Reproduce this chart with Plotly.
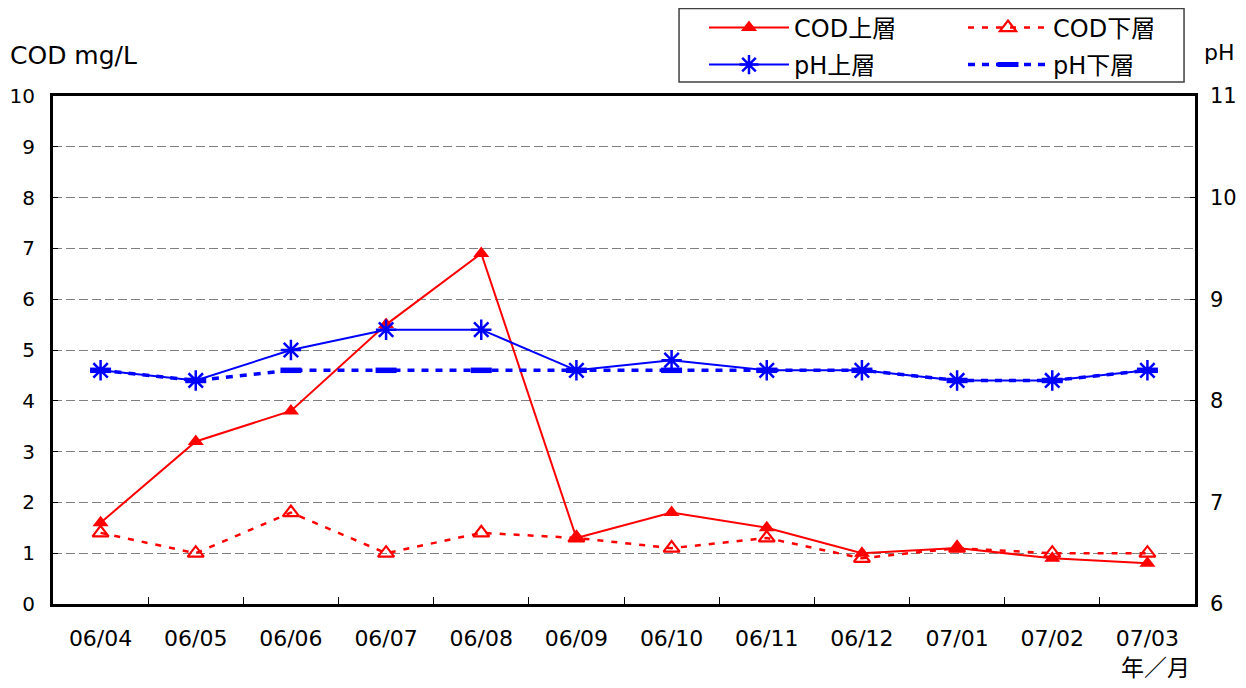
import plotly.graph_objects as go

# ---------------------------------------------------------------------------
# Data
# ---------------------------------------------------------------------------
MONTHS = ["06/04", "06/05", "06/06", "06/07", "06/08", "06/09",
          "06/10", "06/11", "06/12", "07/01", "07/02", "07/03"]

COD_UPPER = [1.6, 3.2, 3.8, 5.5, 6.9, 1.3, 1.8, 1.5, 1.0, 1.1, 0.9, 0.8]
COD_LOWER = [1.4, 1.0, 1.8, 1.0, 1.4, 1.3, 1.1, 1.3, 0.9, 1.1, 1.0, 1.0]
PH_UPPER = [8.3, 8.2, 8.5, 8.7, 8.7, 8.3, 8.4, 8.3, 8.3, 8.2, 8.2, 8.3]
PH_LOWER = [8.3, 8.2, 8.3, 8.3, 8.3, 8.3, 8.3, 8.3, 8.3, 8.2, 8.2, 8.3]

FONT = "DejaVu Sans, Noto Sans CJK JP, sans-serif"
RED = "#ff0000"
BLUE = "#0000ff"

# figure is drawn inside the page body (8px default margin), so it is a bit
# smaller than the window
W, H = 1230, 672

fig = go.Figure()

fig.add_trace(go.Scatter(
    x=MONTHS, y=COD_UPPER, name="COD上層", mode="lines+markers",
    line=dict(color=RED, width=2),
    marker=dict(symbol="triangle-up", size=14, color=RED),
    yaxis="y", legend="legend",
))
fig.add_trace(go.Scatter(
    x=MONTHS, y=COD_LOWER, name="COD下層", mode="lines+markers",
    line=dict(color=RED, width=2.5, dash="6px,8px"),
    marker=dict(symbol="triangle-up-open", size=14, color=RED, line=dict(width=2.2)),
    yaxis="y", legend="legend",
))
fig.add_trace(go.Scatter(
    x=MONTHS, y=PH_UPPER, name="pH上層", mode="lines+markers",
    line=dict(color=BLUE, width=2),
    marker=dict(symbol="asterisk-open", size=17, color=BLUE, line=dict(width=2.5, color=BLUE)),
    yaxis="y2", legend="legend2",
))
fig.add_trace(go.Scatter(
    x=MONTHS, y=PH_LOWER, name="pH下層", mode="lines+markers",
    line=dict(color=BLUE, width=3.5, dash="7px,7px"),
    marker=dict(symbol="line-ew-open", size=15, color=BLUE, line=dict(width=5.5, color=BLUE)),
    yaxis="y2", legend="legend2",
))

legend_common = dict(
    orientation="h",
    xref="container", yref="container",
    x=696 / W, xanchor="left", yanchor="middle",
    borderwidth=0,
    bgcolor="rgba(0,0,0,0)",
    itemwidth=80,
    entrywidth=164,
    traceorder="normal",
    font=dict(size=24, family=FONT),
)

fig.update_layout(
    width=W,
    height=H,
    margin=dict(l=45, r=43, t=88, b=76, autoexpand=False),
    plot_bgcolor="white",
    paper_bgcolor="white",
    font=dict(family=FONT, size=22, color="black"),
    showlegend=True,
    legend=dict(legend_common, y=1 - 20 / H),
    legend2=dict(legend_common, y=1 - 57 / H),
    xaxis=dict(
        type="category",
        range=[-0.5, len(MONTHS) - 0.5],
        showline=True, linecolor="black", linewidth=3, mirror=True,
        ticks="inside", tickson="boundaries", ticklen=7, tickcolor="black", tickwidth=1,
        showgrid=False,
        tickfont=dict(size=22),
        ticklabelstandoff=13,
    ),
    yaxis=dict(
        range=[0, 10], dtick=1,
        showline=True, linecolor="black", linewidth=3, mirror=True,
        ticks="inside", ticklen=5, tickcolor="black",
        showgrid=True, gridcolor="#808080", gridwidth=1, griddash="9px,4px",
        zeroline=False,
        tickfont=dict(size=20),
        ticklabelstandoff=11,
    ),
    yaxis2=dict(
        range=[6, 11], dtick=1,
        overlaying="y", side="right",
        showline=False,
        ticks="inside", ticklen=5, tickcolor="black",
        showgrid=False, zeroline=False,
        tickfont=dict(size=21),
        ticklabelstandoff=14,
    ),
    shapes=[
        # legend frame
        dict(type="rect", xref="paper", yref="paper",
             x0=0.5482, x1=0.9904, y0=1.0276, y1=1.1722,
             line=dict(color="#404040", width=1.5), fillcolor="white", layer="below"),
    ],
    annotations=[
        dict(text="COD mg/L", xref="paper", yref="paper", x=-0.0394, y=1.0807,
             xanchor="left", yanchor="middle", showarrow=False, font=dict(size=25)),
        dict(text="pH", xref="paper", yref="paper", x=1.0061, y=1.0866,
             xanchor="left", yanchor="middle", showarrow=False, font=dict(size=22)),
        dict(text="年／月", xref="paper", yref="paper", x=0.9974, y=-0.1260,
             xanchor="right", yanchor="middle", showarrow=False, font=dict(size=23)),
    ],
)

fig.write_html("out.html")
